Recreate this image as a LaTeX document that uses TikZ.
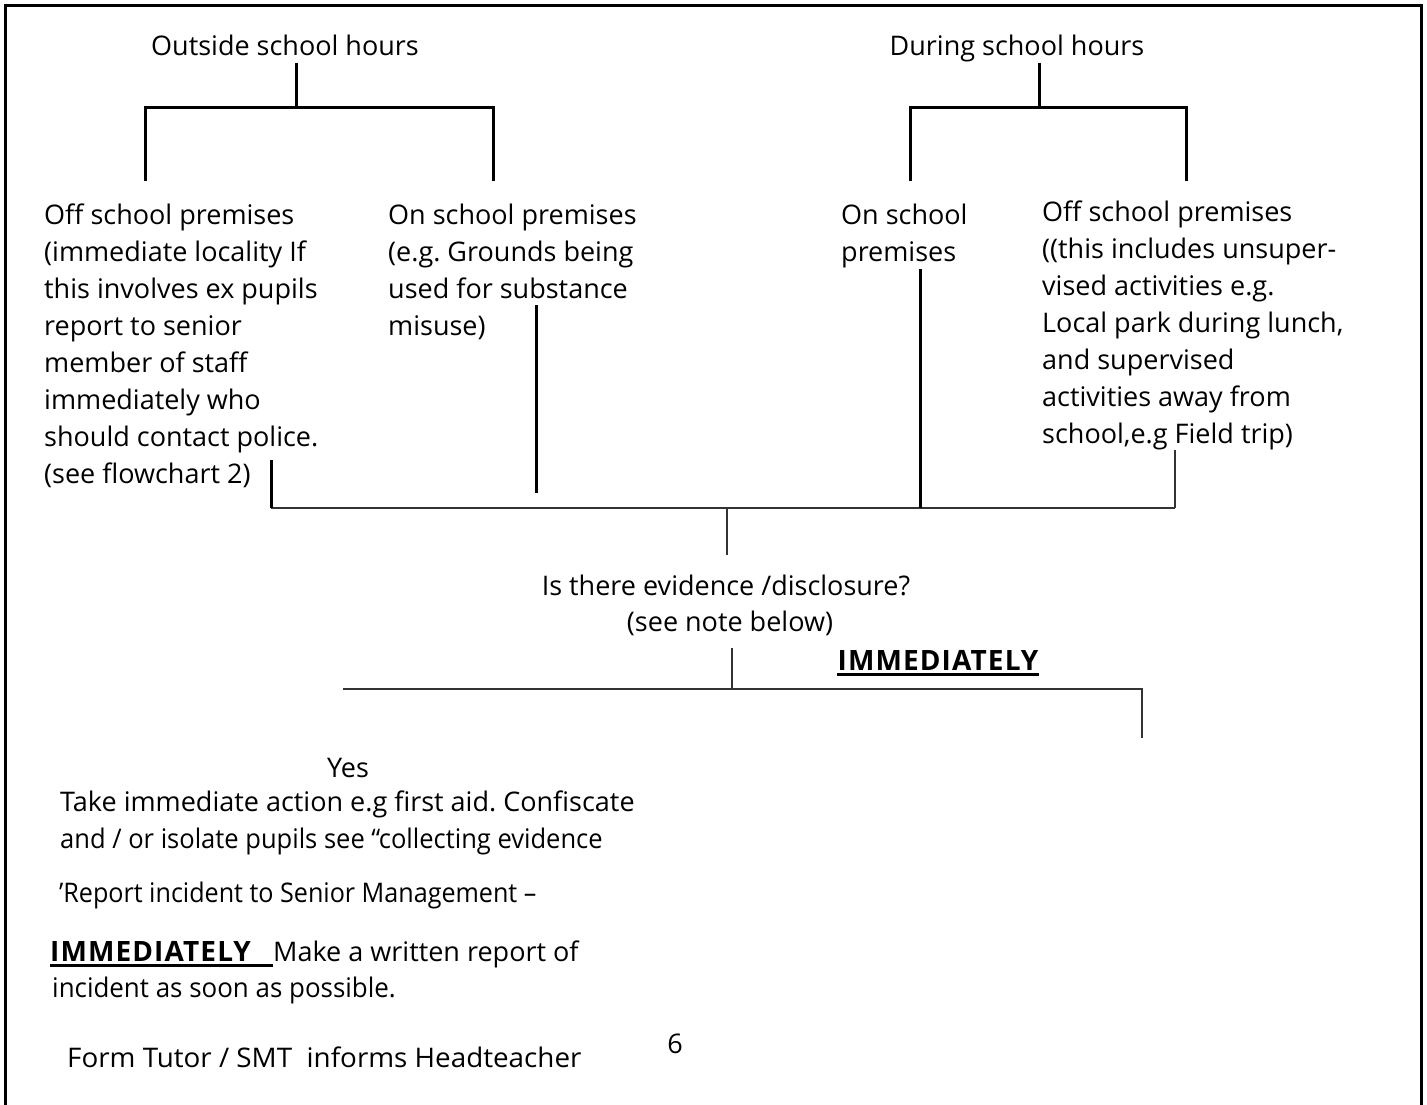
\documentclass[tikz,border=0pt]{standalone}
\usepackage{fontspec}
\setmainfont{Open Sans}
\begin{document}
\frenchspacing
\begin{tikzpicture}[x=1pt,y=-1pt,
  txt/.style={font=\fontsize{27}{37}\selectfont\frenchspacing, inner sep=0pt, align=left, anchor=north west},
  ctr/.style={font=\fontsize{27}{37}\selectfont\frenchspacing, inner sep=0pt, anchor=base},
  lowtxt/.style={font=\fontsize{27}{37}\selectfont\frenchspacing, inner sep=0pt, anchor=base west},
  boldtxt/.style={font=\fontsize{28}{37}\selectfont\bfseries\addfontfeature{LetterSpace=4}, inner sep=0pt},
  heavy/.style={line width=3pt, black},
  light/.style={line width=2pt, black!80},
  uline/.style={line width=2.5pt, black},
  frame/.style={line width=3pt, black}
]
\useasboundingbox (0,0) rectangle (1427,1105);
% frame
\coordinate (fbl) at (5,1105);
\coordinate (ftl) at (5,6);
\coordinate (ftr) at (1421,6);
\coordinate (fbr) at (1421,1105);
\draw[frame] (fbl) -- (ftl) -- (ftr) -- (fbr);

% headings
\node[ctr] (osh) at (285,56) {Outside school hours};
\node[ctr] (dsh) at (1017,56) {During school hours};

% four columns
\node[txt] (c1) at (44,198) {\strut Off school premises\\(immediate locality If\\this involves ex pupils\\report to senior\\member of staff\\immediately who\\should contact police.\\(see flowchart 2)};
\node[txt] (c2) at (388,198) {\strut On school premises\\(e.g. Grounds being\\used for substance\\misuse)};
\node[txt] (c3) at (841,198) {\strut On school\\premises};
\node[txt] (c4) at (1042,195) {\strut Off school premises\\((this includes unsuper-\\vised activities e.g.\\Local park during lunch,\\and supervised\\activities away from\\school,e.g Field trip)};

% top-left tree
\coordinate (t1) at (296,63);
\coordinate (j1) at (296,108);
\coordinate (l1) at (145,108);
\coordinate (r1) at (493,108);
\coordinate (l1b) at (145,181);
\coordinate (r1b) at (493,181);
\draw[heavy] (t1) -- (j1);
\draw[heavy] (l1b) -- (l1) -- (r1) -- (r1b);

% top-right tree
\coordinate (t2) at (1039,63);
\coordinate (j2) at (1039,108);
\coordinate (l2) at (910,108);
\coordinate (r2) at (1186,108);
\coordinate (l2b) at (910,181);
\coordinate (r2b) at (1186,181);
\draw[heavy] (t2) -- (j2);
\draw[heavy] (l2b) -- (l2) -- (r2) -- (r2b);

% collecting lines
\coordinate (a1) at (271,460);
\coordinate (b1) at (271,508);
\coordinate (a2) at (536,305);
\coordinate (b2) at (536,493);
\coordinate (a3) at (920,269);
\coordinate (b3) at (920,508);
\coordinate (a4) at (1175,450);
\coordinate (b4) at (1175,508);
\coordinate (m1) at (727,508);
\coordinate (m2) at (727,555);
\draw[light] (b1) -- (b4);
\draw[heavy] (a1) -- (b1);
\draw[heavy] (a2) -- (b2);
\draw[heavy] (a3) -- (b3);
\draw[light] (a4) -- (b4);
\draw[light] (m1) -- (m2);

% evidence question
\node[ctr] (ev) at (726,595) {Is there evidence /disclosure?};
\node[ctr] (note) at (730,631) {(see note below)};
\node[boldtxt, anchor=base] (imm) at (938,670) {IMMEDIATELY};
\draw[uline] ([yshift=-4.5pt]imm.base west) -- ([yshift=-4.5pt]imm.base east);

\coordinate (s1) at (732,648);
\coordinate (s2) at (732,689);
\coordinate (h1) at (343,689);
\coordinate (h2) at (1142,689);
\coordinate (h3) at (1142,738);
\draw[light] (s1) -- (s2);
\draw[light] (h1) -- (h2) -- (h3);

% lower texts
\node[ctr] (yes) at (348,777) {Yes};
\node[lowtxt] (act1) at (60,811) {Take immediate action e.g first aid. Confiscate};
\node[lowtxt] (act2) at (60,848) {\addfontfeature{FakeStretch=0.945}and / or isolate pupils see “collecting evidence};
\node[lowtxt] (rep) at (59,902) {\addfontfeature{FakeStretch=0.93}'Report incident to Senior Management –};
\node[boldtxt, anchor=base west] (imm2) at (50,961) {IMMEDIATELY};
\node[lowtxt] (mk) at (273,961) {Make a written report of};
\draw[uline] ([yshift=-4.5pt]imm2.base west) -- ([yshift=-4.5pt]mk.base west);
\node[lowtxt] (inc) at (52,997) {\addfontfeature{FakeStretch=0.96}incident as soon as possible.};
\node[ctr] (six) at (675,1053) {6};
\node[lowtxt] (form) at (67,1067) {\addfontfeature{FakeStretch=1.03}Form Tutor / SMT\ \ informs Headteacher};
\end{tikzpicture}
\end{document}
